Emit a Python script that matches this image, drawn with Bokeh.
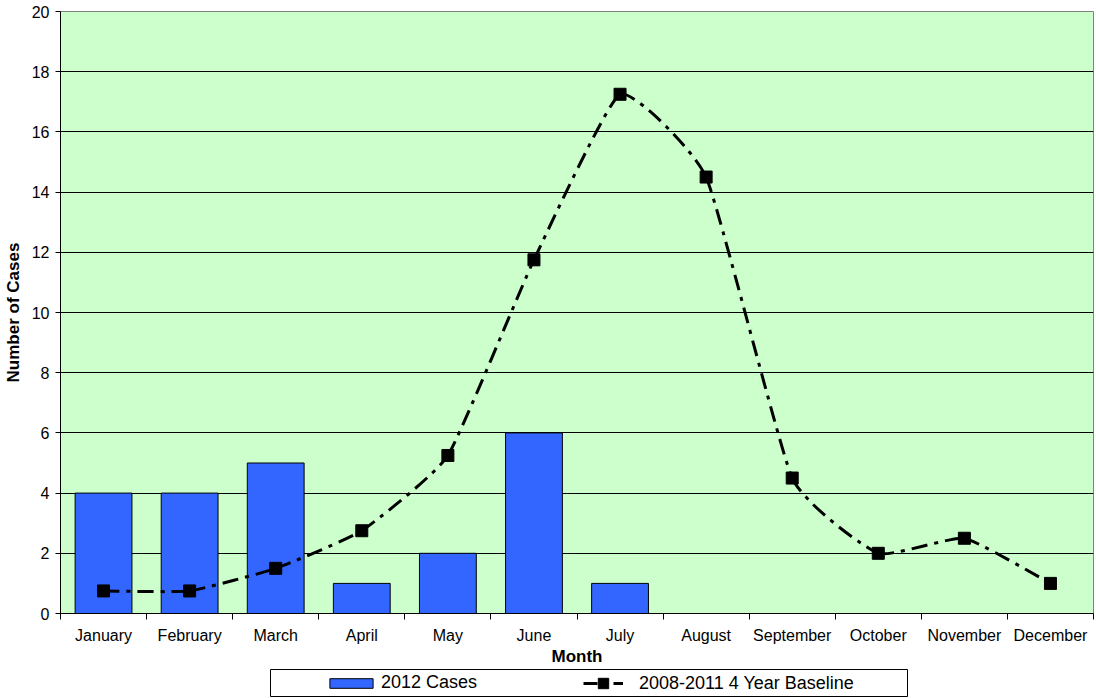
import numpy as np
from bokeh.plotting import figure
from bokeh.models import Range1d, FixedTicker, Legend, LegendItem
from bokeh.embed import file_html
from bokeh.resources import INLINE

months = ["January", "February", "March", "April", "May", "June", "July",
          "August", "September", "October", "November", "December"]
cases_2012 = [4, 4, 5, 1, 2, 6, 1, 0, 0, 0, 0, 0]
baseline = [0.75, 0.75, 1.5, 2.75, 5.25, 11.75, 17.25, 14.5, 4.5, 2.0, 2.5, 1.0]
y_ticks = [0, 2, 4, 6, 8, 10, 12, 14, 16, 18, 20]

FONT = "Liberation Sans"
BAR_COLOR = "#3366FF"
DASH = "16 7 4 7"

x_pos = np.arange(1, len(months) + 1, dtype=float)
bx = [x for x, c in zip(x_pos, cases_2012) if c > 0]
bt = [c for c in cases_2012 if c > 0]

p = figure(width=1096, height=668, output_backend="svg", toolbar_location=None,
           x_range=Range1d(0.5, 12.5), y_range=Range1d(0, 20),
           min_border_left=60, min_border_top=11, min_border_right=3,
           min_border_bottom=53)
p.background_fill_color = "#CCFFCC"
p.border_fill_color = "white"
p.outline_line_color = "#808080"
p.outline_line_width = 1

# bars
p.vbar(x=bx, top=bt, width=0.66, fill_color=BAR_COLOR, line_color="black", line_width=1)

# lightly smoothed baseline curve (Bezier through the data points)
k = 0.07
yb = np.array(baseline, dtype=float)
n = len(yb)
xs_ext = np.concatenate([[x_pos[0]], x_pos, [x_pos[-1]]])
ys_ext = np.concatenate([[yb[0]], yb, [yb[-1]]])
x0 = x_pos[:-1]; y0 = yb[:-1]
x1 = x_pos[1:]; y1 = yb[1:]
cx0 = x0 + (xs_ext[2:n + 1] - xs_ext[0:n - 1]) * k
cy0 = y0 + (ys_ext[2:n + 1] - ys_ext[0:n - 1]) * k
cx1 = x1 - (xs_ext[3:n + 2] - xs_ext[1:n]) * k
cy1 = y1 - (ys_ext[3:n + 2] - ys_ext[1:n]) * k
p.bezier(x0=x0, y0=y0, x1=x1, y1=y1, cx0=cx0, cy0=cy0, cx1=cx1, cy1=cy1,
         line_color="black", line_width=3, line_dash=DASH)
p.scatter(x=x_pos, y=yb, marker="square", size=12, fill_color="black", line_color="black")

# axes
p.xaxis.ticker = FixedTicker(ticks=list(x_pos),
                             minor_ticks=list(np.arange(0.5, 13.0, 1.0)))
p.xaxis.major_label_overrides = {int(x): m for x, m in zip(x_pos, months)}
p.xaxis.major_tick_out = 0
p.xaxis.major_tick_in = 0
p.xaxis.minor_tick_out = 6
p.xaxis.minor_tick_in = 0
p.xaxis.minor_tick_line_color = "black"
p.xaxis.major_label_standoff = 7
p.xaxis.axis_label = "Month"
p.xaxis.axis_label_standoff = 0

p.yaxis.ticker = FixedTicker(ticks=y_ticks, minor_ticks=[])
p.yaxis.major_tick_out = 5
p.yaxis.major_tick_in = 0
p.yaxis.major_label_standoff = 6
p.yaxis.axis_label = "Number of Cases"
p.yaxis.axis_label_standoff = 6

for ax in (p.xaxis[0], p.yaxis[0]):
    ax.axis_line_color = "black"
    ax.axis_line_width = 1
    ax.major_tick_line_color = "black"
    ax.major_label_text_font = FONT
    ax.major_label_text_font_size = "16px"
    ax.major_label_text_color = "black"
    ax.axis_label_text_font = FONT
    ax.axis_label_text_font_size = "17px"
    ax.axis_label_text_font_style = "bold"
    ax.axis_label_text_color = "black"

p.xgrid.visible = False
p.ygrid.grid_line_color = "black"
p.ygrid.grid_line_width = 1
p.ygrid.ticker = FixedTicker(ticks=y_ticks[:-1])

# legend strip: a small figure whose frame is the legend box; it holds the same
# series styled identically, with ranges that keep the marks out of view
q = figure(width=908, height=30, output_backend="svg", toolbar_location=None,
           x_range=Range1d(-20, -19), y_range=Range1d(-20, -19),
           x_axis_type=None, y_axis_type=None,
           min_border_left=270, min_border_right=0, min_border_top=1, min_border_bottom=2)
q.background_fill_color = "white"
q.border_fill_color = "white"
q.outline_line_color = "black"
q.outline_line_width = 1
q.xgrid.visible = False
q.ygrid.visible = False
lb = q.vbar(x=bx, top=bt, width=0.66, fill_color=BAR_COLOR, line_color="black", line_width=1)
ll = q.line(x=x_pos, y=yb, line_color="black", line_width=3, line_dash="14 5 6 5")
lm = q.scatter(x=x_pos, y=yb, marker="square", size=12, fill_color="black", line_color="black")

legend_kw = dict(orientation="horizontal", padding=0, spacing=0,
                 label_text_font=FONT, label_text_font_size="18px",
                 label_text_color="black", label_height=20,
                 border_line_alpha=0, background_fill_alpha=0)
legend1 = Legend(items=[LegendItem(label="2012 Cases", renderers=[lb])],
                 location=(54, 3), glyph_width=54, glyph_height=12,
                 label_standoff=3, **legend_kw)
legend2 = Legend(items=[LegendItem(label="2008-2011 4 Year Baseline", renderers=[ll, lm])],
                 location=(313, 0), glyph_width=40, glyph_height=26,
                 label_standoff=16, **legend_kw)
q.add_layout(legend1, "center")
q.add_layout(legend2, "center")

open("out.html", "w").write(file_html([p, q], INLINE))
